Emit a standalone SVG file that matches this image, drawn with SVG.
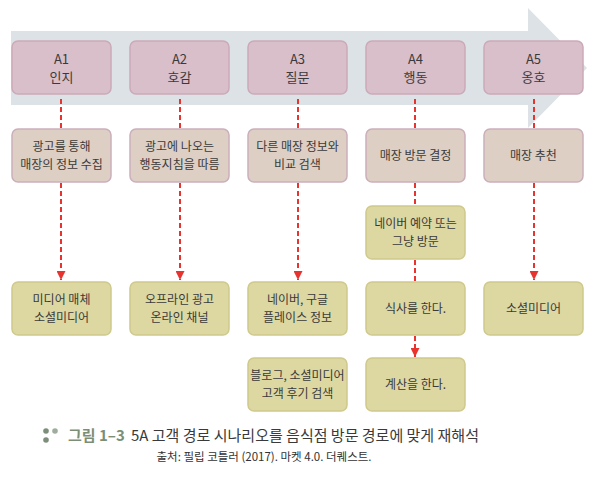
<svg xmlns="http://www.w3.org/2000/svg" width="598" height="485" viewBox="0 0 598 485">
<defs>
<style>
text{font-family:"Noto Sans CJK KR","Noto Sans",sans-serif;font-size:12px;fill:#3a3a3a;stroke:none;text-anchor:middle}
.top rect{fill:#d8bfca;stroke:#cbaab8;stroke-width:1.5}
.mid rect{fill:#ddcfc4;stroke:#cbaebb;stroke-width:1.5}
.low rect{fill:#ddd7a2;stroke:#d0c98c;stroke-width:1.5}
.top text{font-size:13px}
.dash{stroke:#e8332f;stroke-width:2;stroke-dasharray:5,3;fill:none}
</style>
<marker id="ah" viewBox="0 0 10 10" refX="10" refY="5" markerWidth="4.5" markerHeight="4.5" orient="auto" markerUnits="strokeWidth">
<path d="M0,0 L10,5 L0,10 z" fill="#e8332f"/>
</marker>
</defs>
<polygon points="11,31 528,31 528,8 587,68 528,128 528,105 11,105" fill="#dde2e6"/>
<g id="connectors">
<line class="dash" x1="61" y1="99" x2="61" y2="129"/>
<line class="dash" x1="61" y1="183" x2="61" y2="280" marker-end="url(#ah)"/>
<line class="dash" x1="180" y1="99" x2="180" y2="129"/>
<line class="dash" x1="180" y1="183" x2="180" y2="280" marker-end="url(#ah)"/>
<line class="dash" x1="298" y1="99" x2="298" y2="129"/>
<line class="dash" x1="298" y1="183" x2="298" y2="280" marker-end="url(#ah)"/>
<line class="dash" x1="415" y1="99" x2="415" y2="129"/>
<line class="dash" x1="415" y1="183" x2="415" y2="206"/>
<line class="dash" x1="415" y1="260" x2="415" y2="282"/>
<line class="dash" x1="415" y1="336" x2="415" y2="357" marker-end="url(#ah)"/>
<line class="dash" x1="534" y1="99" x2="534" y2="129"/>
<line class="dash" x1="534" y1="183" x2="534" y2="280" marker-end="url(#ah)"/>
</g>
<g id="a1" class="top"><rect x="12" y="41" width="99" height="53" rx="6"/><text x="61.5" y="64">A1</text><text x="61.5" y="82">인지</text></g>
<g id="a2" class="top"><rect x="130" y="41" width="99" height="53" rx="6"/><text x="179.5" y="64">A2</text><text x="179.5" y="82">호감</text></g>
<g id="a3" class="top"><rect x="248" y="41" width="99" height="53" rx="6"/><text x="297.5" y="64">A3</text><text x="297.5" y="82">질문</text></g>
<g id="a4" class="top"><rect x="366" y="41" width="99" height="53" rx="6"/><text x="415.5" y="64">A4</text><text x="415.5" y="82">행동</text></g>
<g id="a5" class="top"><rect x="484" y="41" width="99" height="53" rx="6"/><text x="533.5" y="64">A5</text><text x="533.5" y="82">옹호</text></g>

<g id="m1" class="mid"><rect x="12" y="129" width="99" height="53" rx="6"/><text x="61.5" y="151">광고를 통해</text><text x="61.5" y="169">매장의 정보 수집</text></g>
<g id="m2" class="mid"><rect x="130" y="129" width="99" height="53" rx="6"/><text x="179.5" y="151">광고에 나오는</text><text x="179.5" y="169">행동지침을 따름</text></g>
<g id="m3" class="mid"><rect x="248" y="129" width="99" height="53" rx="6"/><text x="297.5" y="151">다른 매장 정보와</text><text x="297.5" y="169">비교 검색</text></g>
<g id="m4" class="mid"><rect x="366" y="129" width="99" height="53" rx="6"/><text x="415.5" y="160">매장 방문 결정</text></g>
<g id="m5" class="mid"><rect x="484" y="129" width="99" height="53" rx="6"/><text x="533.5" y="160">매장 추천</text></g>

<g id="n4a" class="low"><rect x="366" y="206" width="99" height="53" rx="6"/><text x="415.5" y="228">네이버 예약 또는</text><text x="415.5" y="246">그냥 방문</text></g>

<g id="l1" class="low"><rect x="12" y="282" width="99" height="53" rx="6"/><text x="61.5" y="304">미디어 매체</text><text x="61.5" y="322">소셜미디어</text></g>
<g id="l2" class="low"><rect x="130" y="282" width="99" height="53" rx="6"/><text x="179.5" y="304">오프라인 광고</text><text x="179.5" y="322">온라인 채널</text></g>
<g id="l3" class="low"><rect x="248" y="282" width="99" height="53" rx="6"/><text x="297.5" y="304">네이버, 구글</text><text x="297.5" y="322">플레이스 정보</text></g>
<g id="l4" class="low"><rect x="366" y="282" width="99" height="53" rx="6"/><text x="415.5" y="313">식사를 한다.</text></g>
<g id="l5" class="low"><rect x="484" y="282" width="99" height="53" rx="6"/><text x="533.5" y="313">소셜미디어</text></g>

<g id="b3" class="low"><rect x="248" y="358" width="99" height="53" rx="6"/><text x="297.5" y="380">블로그, 소셜미디어</text><text x="297.5" y="398">고객 후기 검색</text></g>
<g id="b4" class="low"><rect x="366" y="358" width="99" height="53" rx="6"/><text x="415.5" y="389">계산을 한다.</text></g>

<g id="caption">
<circle cx="46" cy="431" r="2.8" fill="#7d8f7a"/>
<circle cx="55" cy="431" r="2.8" fill="#9fae9c"/>
<circle cx="46" cy="440" r="2.8" fill="#7d8f7a"/>
<text x="68" y="441" style="font-size:15px;text-anchor:start;fill:#7a8f76;font-weight:bold">그림 1–3</text>
<text x="131" y="441" style="font-size:15px;text-anchor:start;fill:#3a3a3a">5A 고객 경로 시나리오를 음식점 방문 경로에 맞게 재해석</text>
<text x="264" y="461" style="font-size:11.5px;fill:#333">출처: 필립 코틀러 (2017). 마켓 4.0. 더퀘스트.</text>
</g>
</svg>
